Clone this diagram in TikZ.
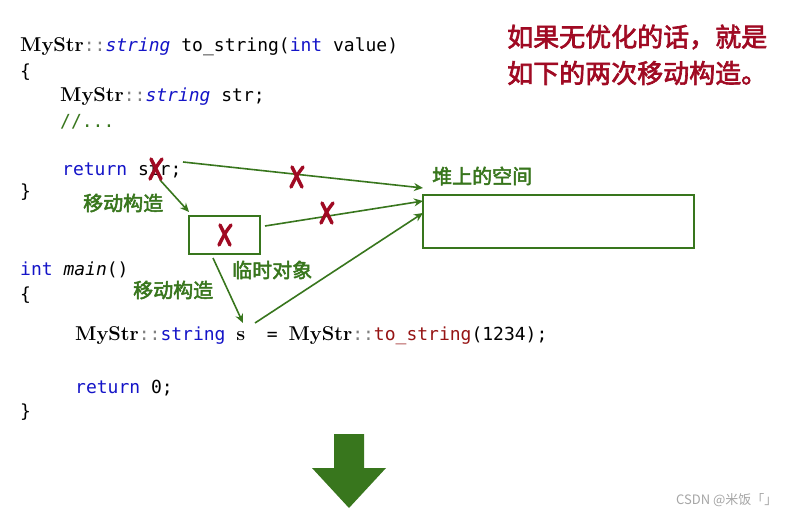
\documentclass[tikz,border=0pt]{standalone}
\usepackage{fontspec}
\setmonofont{DejaVu Sans Mono}
\newfontfamily\cjk[AutoFakeBold=2.5]{Noto Sans CJK SC}
\usetikzlibrary{arrows.meta}
\definecolor{kwblue}{RGB}{20,20,200}
\definecolor{fngreen}{RGB}{56,118,29}
\definecolor{tipred}{RGB}{160,10,35}
\definecolor{fnred}{RGB}{150,20,20}
\tikzset{
  code/.style={anchor=west, inner sep=0pt, font=\ttfamily\fontsize{18}{18}\selectfont},
  note/.style={anchor=west, inner sep=0pt, text=fngreen, font=\cjk\bfseries\fontsize{20}{20}\selectfont},
  conn/.style={draw=fngreen, line width=1.6pt, -{Stealth[length=9pt,width=8pt]}},
  boxg/.style={draw=fngreen, line width=1.8pt},
  cross/.style={draw=tipred, line width=3.4pt, line cap=round}
}
\newcommand{\ms}{{\rmfamily\bfseries\fontsize{20}{20}\selectfont MyStr}{\color{gray}::}}
\newcommand{\crossat}[1]{\draw [cross] ($(#1)+(-5,-10)$) -- ($(#1)+(5,10)$);
   \draw [cross] ($(#1)+(6,-10)$) .. controls ($(#1)+(0,-2)$) .. ($(#1)+(-6,10)$);}
\usetikzlibrary{calc}
\begin{document}
\begin{tikzpicture}[x=1pt,y=-1pt]
   \useasboundingbox (0,0) rectangle (793,516);
   \fill[white] (0,0) rectangle (793,516);
   % the code
   \node [code] (l1) at (20, 47) {\ms\textit{\color{kwblue}string} to\_string({\color{kwblue}int} value)};
   \node [code] (l2) at (20, 72) {\{};
   \node [code] (l3) at (60, 97) {\ms\textit{\color{kwblue}string} str;};
   \node [code] (l4) at (60, 122) {{\color{fngreen}//...}};
   \node [code] (l5) at (62, 170) {{\color{kwblue}return} str;};
   \node [code] (l6) at (20, 192) {\}};
   \node [code] (l7) at (20, 270) {{\color{kwblue}int} \textit{main}()};
   \node [code] (l8) at (20, 295) {\{};
   \node [code] (l9) at (75, 336) {\ms{\color{kwblue}string} {\rmfamily\bfseries\fontsize{20}{20}\selectfont s} \ = \ms{\color{fnred}to\_string}(1234);};
   \node [code] (l10) at (75, 388) {{\color{kwblue}return} 0;};
   \node [code] (l11) at (20, 412) {\}};
   % note
   \node [anchor=west, inner sep=0pt, text=tipred, font=\cjk\bfseries\fontsize{26}{26}\selectfont] (t1) at (507, 37) {如果无优化的话，就是};
   \node [anchor=west, inner sep=0pt, text=tipred, font=\cjk\bfseries\fontsize{26}{26}\selectfont] (t2) at (507, 73) {如下的两次移动构造。};
   % boxes
   \draw [boxg] (423, 195) rectangle (694, 248);
   \coordinate (heapa) at (423, 188);
   \coordinate (heapb) at (423, 201);
   \coordinate (heapc) at (423, 213);
   \draw [boxg] (189, 216) rectangle (260, 254);
   \coordinate (tmpin) at (189, 212);
   \coordinate (tmpout) at (265, 226);
   \coordinate (tmpdown) at (213, 258);
   \coordinate (strend) at (183, 162);
   \coordinate (strdown) at (160, 180);
   \coordinate (sdst) at (243, 323);
   \coordinate (ssrc) at (255, 323);
   \node [note] (heap) at (432, 176) {堆上的空间};
   \node [note] (mv1) at (83, 203) {移动构造};
   \node [note] (tmp) at (232, 270) {临时对象};
   \node [note] (mv2) at (133, 290) {移动构造};
   % arrows
   \draw [conn] (strend) -- (heapa);
   \draw [conn] (strdown) -- (tmpin);
   \draw [conn] (tmpout) -- (heapb);
   \draw [conn] (tmpdown) -- (sdst);
   \draw [conn] (ssrc) -- (heapc);
   % crosses
   \crossat{156,169}
   \crossat{225,235}
   \crossat{297,177}
   \crossat{327,213}
   % big arrow
   \fill [fngreen] (334, 434) -- (364, 434) -- (364, 468) -- (386, 468) -- (349, 508) -- (312, 468) -- (334, 468) -- cycle;
   \node [anchor=west, inner sep=0pt, text=gray!70, font=\cjk\fontsize{13}{13}\selectfont] (mark) at (676, 500) {CSDN @米饭「」};
\end{tikzpicture}
\end{document}
